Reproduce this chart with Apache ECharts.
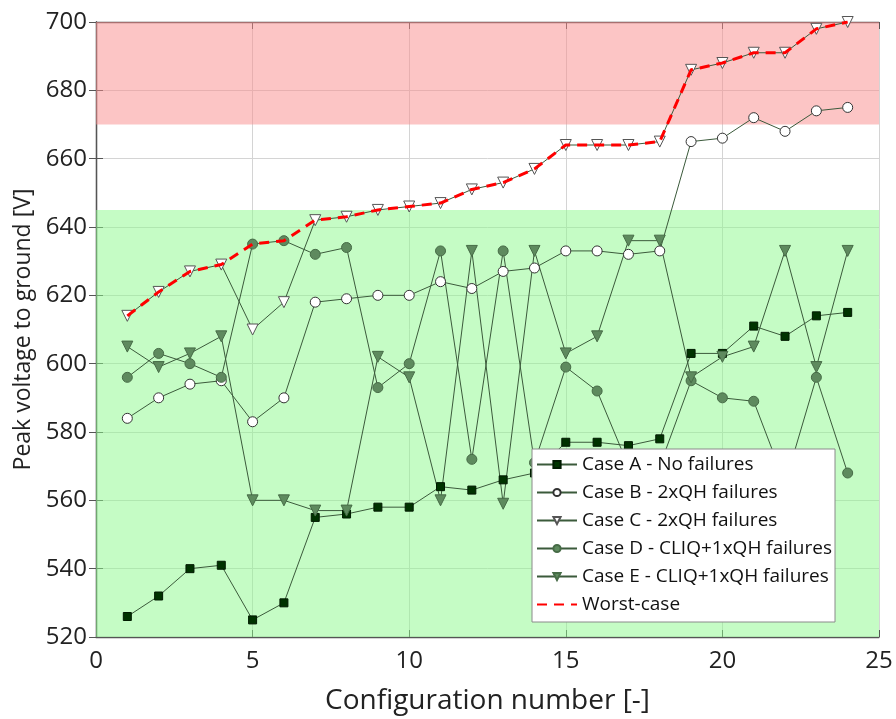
<!DOCTYPE html>
<html>
<head>
<meta charset="utf-8">
<script src="https://cdn.jsdelivr.net/npm/echarts@6/dist/echarts.min.js"></script>
<style>
  html, body { margin: 0; padding: 0; background: #fff; }
  #chart { width: 896px; height: 719px; }
</style>
</head>
<body>
<div id="chart"></div>
<script>
// configuration numbers 1..24
var configs = [1, 2, 3, 4, 5, 6, 7, 8, 9, 10, 11, 12, 13, 14, 15, 16, 17, 18, 19, 20, 21, 22, 23, 24];

var caseA = [526, 532, 540, 541, 525, 530, 555, 556, 558, 558, 564, 563, 566, 568, 577, 577, 576, 578, 603, 603, 611, 608, 614, 615];
var caseB = [584, 590, 594, 595, 583, 590, 618, 619, 620, 620, 624, 622, 627, 628, 633, 633, 632, 633, 665, 666, 672, 668, 674, 675];
var caseC = [614, 621, 627, 629, 610, 618, 642, 643, 645, 646, 647, 651, 653, 657, 664, 664, 664, 665, 686, 688, 691, 691, 698, 700];
var caseD = [596, 603, 600, 596, 635, 636, 632, 634, 593, 600, 633, 572, 633, 571, 599, 592, 570, 570, 595, 590, 589, 565, 596, 568];
var caseE = [605, 599, 603, 608, 560, 560, 557, 557, 602, 596, 560, 633, 559, 633, 603, 608, 636, 636, 596, 602, 605, 633, 599, 633];
var worst = [614, 621, 627, 629, 635, 636, 642, 643, 645, 646, 647, 651, 653, 657, 664, 664, 664, 665, 686, 688, 691, 691, 698, 700];

var names = ['Case A - No failures', 'Case B - 2xQH failures', 'Case C - 2xQH failures',
             'Case D - CLIQ+1xQH failures', 'Case E - CLIQ+1xQH failures', 'Worst-case'];

function pairs(vals) {
    return configs.map(function (c, i) { return [c, vals[i]]; });
}

var lineCol = '#3b5a3b';
var fontFam = '"Open Sans", "Noto Sans", sans-serif';

function caseSeries(name, vals, symbol, size, fill, border, rotate) {
    return {
        name: name,
        type: 'line',
        data: pairs(vals),
        symbol: symbol,
        symbolSize: size,
        symbolRotate: rotate || 0,
        showAllSymbol: true,
        lineStyle: { color: lineCol, width: 1 },
        itemStyle: { color: fill, borderColor: border, borderWidth: 1 },
        z: 3
    };
}

var option = {
    backgroundColor: '#fff',
    animation: false,
    grid: { left: 96, right: 17, top: 22, bottom: 82, outerBoundsMode: 'none', containLabel: false },
    legend: {
        data: names.slice(0, 5).concat([{ name: names[5], itemStyle: { opacity: 0 } }]),
        orient: 'vertical',
        left: 532,
        top: 449,
        backgroundColor: '#fff',
        borderColor: '#8a8a8a',
        borderWidth: 1,
        padding: [6, 3, 8, 4],
        itemGap: 9,
        itemWidth: 40,
        itemHeight: 9,
        textStyle: { fontSize: 19, color: '#111', fontFamily: fontFam }
    },
    xAxis: [
        {
            type: 'value',
            min: 0, max: 25, interval: 5,
            name: 'Configuration number [-]',
            nameLocation: 'middle',
            nameGap: 50,
            nameTextStyle: { fontSize: 28, color: '#222', fontFamily: fontFam },
            axisLine: { show: true, lineStyle: { color: '#555', width: 1.3 } },
            axisTick: { show: true, inside: true, length: 7, lineStyle: { color: '#555' } },
            axisLabel: { fontSize: 24, color: '#222', margin: 12, fontFamily: fontFam },
            splitLine: { show: true, lineStyle: { color: '#d4d4d4', width: 1 } }
        },
        {
            type: 'value', position: 'top',
            min: 0, max: 25, interval: 5,
            axisLine: { show: true, lineStyle: { color: '#555', width: 1.3 } },
            axisTick: { show: true, inside: true, length: 7, lineStyle: { color: '#555' } },
            axisLabel: { show: false },
            splitLine: { show: false }
        }
    ],
    yAxis: [
        {
            type: 'value',
            min: 520, max: 700, interval: 20,
            name: 'Peak voltage to ground [V]',
            nameLocation: 'middle',
            nameGap: 60,
            nameTextStyle: { fontSize: 23, color: '#222', fontFamily: fontFam },
            axisLine: { show: true, lineStyle: { color: '#555', width: 1.3 } },
            axisTick: { show: true, inside: true, length: 7, lineStyle: { color: '#555' } },
            axisLabel: { fontSize: 24, color: '#222', margin: 9, fontFamily: fontFam },
            splitLine: { show: true, lineStyle: { color: '#d4d4d4', width: 1 } }
        },
        {
            type: 'value', position: 'right',
            min: 520, max: 700, interval: 20,
            axisLine: { show: true, lineStyle: { color: '#555', width: 1.3 } },
            axisTick: { show: true, inside: true, length: 7, lineStyle: { color: '#555' } },
            axisLabel: { show: false },
            splitLine: { show: false }
        }
    ],
    series: [
        {
            // background limit bands
            name: 'bands',
            type: 'line',
            data: [],
            z: 1,
            silent: true,
            markArea: {
                silent: true,
                data: [
                    [{ yAxis: 520, itemStyle: { color: 'rgba(140,250,140,0.5)' } }, { yAxis: 645 }],
                    [{ yAxis: 670, itemStyle: { color: 'rgba(250,140,140,0.5)' } }, { yAxis: 700 }]
                ]
            }
        },
        caseSeries(names[0], caseA, 'rect', 8, '#003300', '#001a00'),
        caseSeries(names[1], caseB, 'circle', 10, '#ffffff', '#333333'),
        caseSeries(names[2], caseC, 'triangle', 11, '#ffffff', '#555555', 180),
        caseSeries(names[3], caseD, 'circle', 10, '#5e8a5e', '#466b46'),
        caseSeries(names[4], caseE, 'triangle', 11, '#5e8a5e', '#466b46', 180),
        {
            name: names[5],
            type: 'line',
            data: pairs(worst),
            symbol: 'none',
            lineStyle: { color: '#ff0000', width: 3, type: [10, 7] },
            itemStyle: { color: '#ff0000' },
            z: 5
        }
    ]
};

var myChart = echarts.init(document.getElementById('chart'));
myChart.setOption(option);
</script>
</body>
</html>
